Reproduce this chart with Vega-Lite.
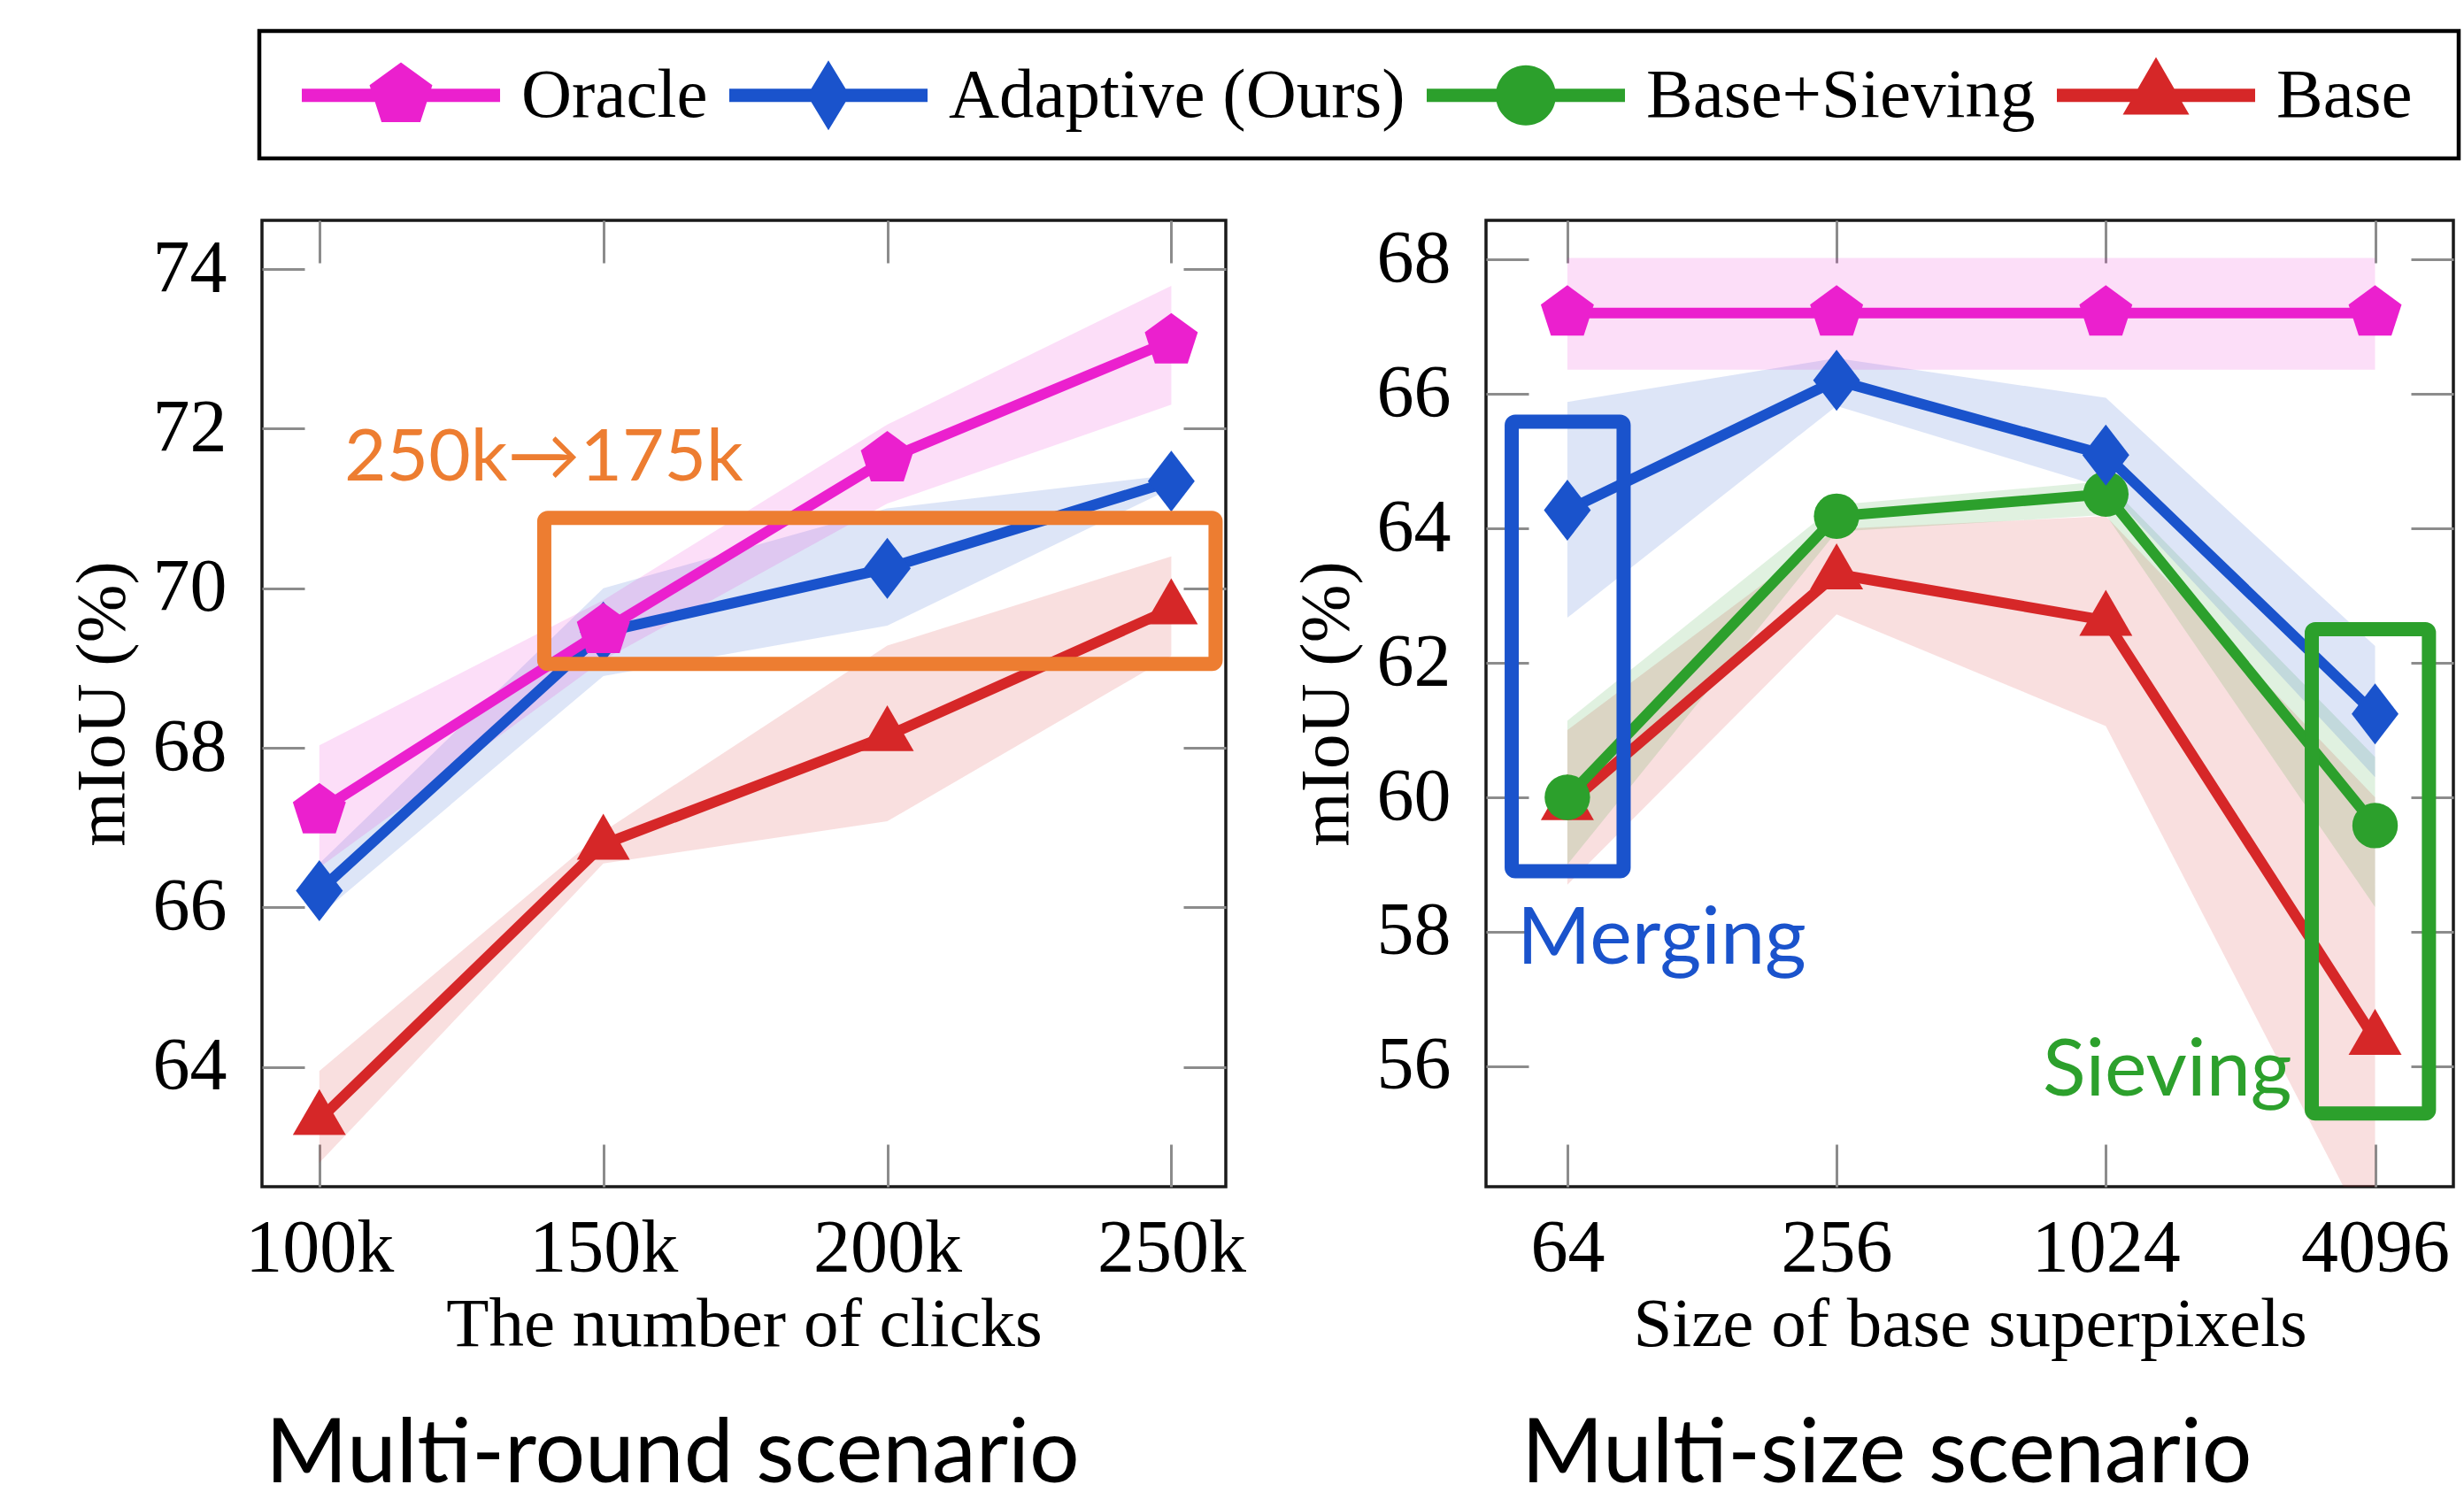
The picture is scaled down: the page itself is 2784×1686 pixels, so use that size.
{
  "$schema": "https://vega.github.io/schema/vega-lite/v6.json",
  "background": "white",
  "padding": {"left": 74, "top": 32, "right": 5, "bottom": 5},
  "config": {
    "view": {"stroke": "#1a1a1a", "strokeWidth": 3.5},
    "axis": {"grid": false, "domain": false, "tickColor": "#8c8c8c", "tickWidth": 3, "tickSize": -48, "labelFont": "Liberation Serif", "labelFontSize": 84, "labelColor": "black", "titleFont": "Liberation Serif", "titleFontSize": 79, "titleFontWeight": "normal", "titleColor": "black"},
    "legend": {"labelFont": "Liberation Serif", "labelFontSize": 79, "labelColor": "black", "labelLimit": 3000, "labelOffset": 165, "symbolSize": 6889, "symbolStrokeWidth": 0, "symbolOpacity": 1, "columnPadding": 24, "padding": 31, "strokeColor": "black", "strokeWidth": 4.5, "fillColor": "white", "titleFont": "Liberation Serif", "titleFontSize": 40, "titlePadding": 17}
  },
  "datasets": {
    "clicks": [
      {"series": "Base", "x": 100, "v": 63.34, "lo": 62.8, "hi": 63.95},
      {"series": "Base", "x": 150, "v": 66.79, "lo": 66.55, "hi": 66.95},
      {"series": "Base", "x": 200, "v": 68.15, "lo": 67.08, "hi": 69.28},
      {"series": "Base", "x": 250, "v": 69.74, "lo": 69.15, "hi": 70.4},
      {"series": "Adaptive (Ours)", "x": 100, "v": 66.21, "lo": 65.9, "hi": 66.55},
      {"series": "Adaptive (Ours)", "x": 150, "v": 69.45, "lo": 68.9, "hi": 70.0},
      {"series": "Adaptive (Ours)", "x": 200, "v": 70.25, "lo": 69.53, "hi": 71.0},
      {"series": "Adaptive (Ours)", "x": 250, "v": 71.34, "lo": 71.25, "hi": 71.42},
      {"series": "Oracle", "x": 100, "v": 67.21, "lo": 66.5, "hi": 68.03},
      {"series": "Oracle", "x": 150, "v": 69.47, "lo": 69.1, "hi": 69.85},
      {"series": "Oracle", "x": 200, "v": 71.62, "lo": 71.06, "hi": 72.05},
      {"series": "Oracle", "x": 250, "v": 73.1, "lo": 72.3, "hi": 73.79}
    ],
    "size": [
      {"series": "Base", "x": 64, "v": 59.89, "lo": 58.7, "hi": 61.0},
      {"series": "Base", "x": 256, "v": 63.32, "lo": 62.72, "hi": 63.99},
      {"series": "Base", "x": 1024, "v": 62.63, "lo": 61.06, "hi": 64.18},
      {"series": "Base", "x": 4096, "v": 56.4, "lo": 53.3, "hi": 60.0},
      {"series": "Base+Sieving", "x": 64, "v": 60.0, "lo": 59.0, "hi": 61.14},
      {"series": "Base+Sieving", "x": 256, "v": 64.18, "lo": 63.95, "hi": 64.35},
      {"series": "Base+Sieving", "x": 1024, "v": 64.51, "lo": 64.2, "hi": 64.7},
      {"series": "Base+Sieving", "x": 4096, "v": 59.58, "lo": 58.37, "hi": 60.6},
      {"series": "Adaptive (Ours)", "x": 64, "v": 64.27, "lo": 62.67, "hi": 65.88},
      {"series": "Adaptive (Ours)", "x": 256, "v": 66.2, "lo": 65.82, "hi": 66.53},
      {"series": "Adaptive (Ours)", "x": 1024, "v": 65.09, "lo": 64.6, "hi": 65.94},
      {"series": "Adaptive (Ours)", "x": 4096, "v": 61.24, "lo": 60.3, "hi": 62.25},
      {"series": "Oracle", "x": 64, "v": 67.2, "lo": 66.36, "hi": 68.02},
      {"series": "Oracle", "x": 256, "v": 67.2, "lo": 66.36, "hi": 68.02},
      {"series": "Oracle", "x": 1024, "v": 67.2, "lo": 66.36, "hi": 68.02},
      {"series": "Oracle", "x": 4096, "v": 67.2, "lo": 66.36, "hi": 68.02}
    ]
  },
  "spacing": 47,
  "resolve": {"scale": {"color": "shared", "fill": "shared", "shape": "shared", "x": "independent", "y": "independent"}},
  "hconcat": [
    {
      "width": 1089,
      "height": 1092,
      "title": {"text": "Multi-round scenario", "orient": "bottom", "anchor": "start", "frame": "group", "font": "Lato", "fontSize": 100, "fontWeight": "normal", "color": "black", "offset": 60, "dx": 4},
      "data": {"name": "clicks"},
      "resolve": {"axis": {"x": "independent", "y": "independent"}},
      "layer": [
        {
          "mark": {"type": "area", "fillOpacity": 0.15, "clip": true},
          "encoding": {
            "x": {"field": "x", "type": "quantitative", "scale": {"domain": [89.9, 259.6], "nice": false, "zero": false}, "axis": {"orient": "bottom", "values": [100, 150, 200, 250], "labelExpr": "datum.value + 'k'", "labelPadding": 77, "title": "The number of clicks", "titlePadding": 5}},
            "y": {"field": "lo", "type": "quantitative", "stack": null, "scale": {"domain": [62.5, 74.61], "nice": false, "zero": false}, "axis": {"orient": "left", "values": [64, 66, 68, 70, 72, 74], "labelPadding": 88, "title": "mIoU (%)", "titlePadding": 16}},
            "y2": {"field": "hi"},
            "color": {"field": "series", "type": "nominal", "legend": null, "scale": {"domain": ["Base", "Base+Sieving", "Adaptive (Ours)", "Oracle"], "range": ["#D62728", "#2CA02C", "#1A53CC", "#EB20CE"]}}
          }
        },
        {
          "transform": [{"filter": "datum.series === 'Base'"}],
          "mark": {"type": "line", "strokeWidth": 12, "point": {"filled": true, "shape": "M0,-1L0.866,0.5L-0.866,0.5Z", "size": 4789, "opacity": 1, "strokeWidth": 0}},
          "encoding": {
            "x": {"field": "x", "type": "quantitative", "axis": {"orient": "top", "values": [100, 150, 200, 250], "labels": false, "title": null}},
            "y": {"field": "v", "type": "quantitative", "axis": {"orient": "right", "values": [64, 66, 68, 70, 72, 74], "labels": false, "title": null}},
            "color": {"field": "series", "type": "nominal", "legend": null}
          }
        },
        {
          "transform": [{"filter": "datum.series === 'Adaptive (Ours)'"}],
          "mark": {"type": "line", "strokeWidth": 12, "point": {"filled": true, "shape": "M0,-1L0.768,0L0,1L-0.768,0Z", "size": 4761, "opacity": 1, "strokeWidth": 0}},
          "encoding": {
            "x": {"field": "x", "type": "quantitative", "axis": null},
            "y": {"field": "v", "type": "quantitative", "axis": null},
            "color": {"field": "series", "type": "nominal", "legend": null}
          }
        },
        {
          "transform": [{"filter": "datum.series === 'Oracle'"}],
          "mark": {"type": "line", "strokeWidth": 12, "point": {"filled": true, "shape": "M0,-1L0.951,-0.309L0.588,0.809L-0.588,0.809L-0.951,-0.309Z", "size": 3969, "opacity": 1, "strokeWidth": 0}},
          "encoding": {
            "x": {"field": "x", "type": "quantitative", "axis": null},
            "y": {"field": "v", "type": "quantitative", "axis": null},
            "color": {"field": "series", "type": "nominal", "legend": null}
          }
        },
        {
          "data": {"values": [{"x": 139.6, "x2": 257.8, "y": 70.88, "y2": 69.05}]},
          "mark": {"type": "rect", "filled": false, "color": "#ED7D31", "strokeWidth": 16, "cornerRadius": 4},
          "encoding": {
            "x": {"field": "x", "type": "quantitative", "axis": null},
            "x2": {"field": "x2"},
            "y": {"field": "y", "type": "quantitative", "axis": null},
            "y2": {"field": "y2"}
          }
        },
        {
          "data": {"values": [{"x": 104.4, "y": 71.35, "label": "250k→175k"}]},
          "mark": {"type": "text", "align": "left", "baseline": "alphabetic", "font": "Lato", "fontSize": 82, "color": "#ED7D31"},
          "encoding": {
            "x": {"field": "x", "type": "quantitative", "axis": null},
            "y": {"field": "y", "type": "quantitative", "axis": null},
            "text": {"field": "label"}
          }
        },
        {
          "transform": [{"filter": "datum.v < 0"}],
          "mark": {"type": "point", "filled": true, "opacity": 1, "strokeWidth": 0},
          "encoding": {
            "x": {"field": "x", "type": "quantitative", "axis": null},
            "y": {"field": "v", "type": "quantitative", "axis": null},
            "fill": {"field": "series", "type": "nominal", "scale": {"domain": ["Oracle", "Adaptive (Ours)", "Base+Sieving", "Base"], "range": ["#EB20CE", "#1A53CC", "#2CA02C", "#D62728"]}, "legend": {"title": " ", "titleOrient": "left", "orient": "none", "legendX": -3, "legendY": -214, "direction": "horizontal", "columns": 4}},
            "shape": {"field": "series", "type": "nominal", "scale": {"domain": ["Oracle", "Adaptive (Ours)", "Base+Sieving", "Base"], "range": ["M-1,-0.181L4.398,-0.181L4.398,0.181L-1,0.181ZM1.699,-0.899L2.554,-0.278L2.227,0.727L1.171,0.727L0.844,-0.278Z", "M-1,-0.181L4.398,-0.181L4.398,0.181L-1,0.181ZM1.699,-0.952L2.277,0L1.699,0.952L1.121,0Z", "M-1,-0.181L4.398,-0.181L4.398,0.181L-1,0.181ZM2.518,0A0.819,0.819,0,1,1,0.88,0A0.819,0.819,0,1,1,2.518,0Z", "M-1,-0.181L4.398,-0.181L4.398,0.181L-1,0.181ZM1.699,-1.043L2.603,0.523L0.795,0.523ZM9.19,0L9.19,0Z"]}, "legend": {"title": " ", "titleOrient": "left", "orient": "none", "legendX": -3, "legendY": -214, "direction": "horizontal", "columns": 4}}
          }
        }
      ]
    },
    {
      "width": 1093,
      "height": 1092,
      "title": {"text": "Multi-size scenario", "orient": "bottom", "anchor": "start", "frame": "group", "font": "Lato", "fontSize": 100, "fontWeight": "normal", "color": "black", "offset": 60, "dx": 40},
      "data": {"name": "size"},
      "resolve": {"axis": {"x": "independent", "y": "independent"}},
      "layer": [
        {
          "mark": {"type": "area", "fillOpacity": 0.15, "clip": true},
          "encoding": {
            "x": {"field": "x", "type": "quantitative", "scale": {"type": "log", "base": 2, "domain": [42.1, 6130], "nice": false}, "axis": {"orient": "bottom", "values": [64, 256, 1024, 4096], "format": "d", "labelPadding": 77, "title": "Size of base superpixels", "titlePadding": 5}},
            "y": {"field": "lo", "type": "quantitative", "stack": null, "scale": {"domain": [54.21, 68.58], "nice": false, "zero": false}, "axis": {"orient": "left", "values": [56, 58, 60, 62, 64, 66, 68], "labelPadding": 88, "title": "mIoU (%)", "titlePadding": 16}},
            "y2": {"field": "hi"},
            "color": {"field": "series", "type": "nominal", "legend": null}
          }
        },
        {
          "transform": [{"filter": "datum.series === 'Base'"}],
          "mark": {"type": "line", "strokeWidth": 12, "point": {"filled": true, "shape": "M0,-1L0.866,0.5L-0.866,0.5Z", "size": 4789, "opacity": 1, "strokeWidth": 0}},
          "encoding": {
            "x": {"field": "x", "type": "quantitative", "axis": {"orient": "top", "values": [64, 256, 1024, 4096], "labels": false, "title": null}},
            "y": {"field": "v", "type": "quantitative", "axis": {"orient": "right", "values": [56, 58, 60, 62, 64, 66, 68], "labels": false, "title": null}},
            "color": {"field": "series", "type": "nominal", "legend": null}
          }
        },
        {
          "transform": [{"filter": "datum.series === 'Base+Sieving'"}],
          "mark": {"type": "line", "strokeWidth": 12, "point": {"filled": true, "shape": "circle", "size": 2642, "opacity": 1, "strokeWidth": 0}},
          "encoding": {
            "x": {"field": "x", "type": "quantitative", "axis": null},
            "y": {"field": "v", "type": "quantitative", "axis": null},
            "color": {"field": "series", "type": "nominal", "legend": null}
          }
        },
        {
          "transform": [{"filter": "datum.series === 'Adaptive (Ours)'"}],
          "mark": {"type": "line", "strokeWidth": 12, "point": {"filled": true, "shape": "M0,-1L0.768,0L0,1L-0.768,0Z", "size": 4761, "opacity": 1, "strokeWidth": 0}},
          "encoding": {
            "x": {"field": "x", "type": "quantitative", "axis": null},
            "y": {"field": "v", "type": "quantitative", "axis": null},
            "color": {"field": "series", "type": "nominal", "legend": null}
          }
        },
        {
          "transform": [{"filter": "datum.series === 'Oracle'"}],
          "mark": {"type": "line", "strokeWidth": 12, "point": {"filled": true, "shape": "M0,-1L0.951,-0.309L0.588,0.809L-0.588,0.809L-0.951,-0.309Z", "size": 3969, "opacity": 1, "strokeWidth": 0}},
          "encoding": {
            "x": {"field": "x", "type": "quantitative", "axis": null},
            "y": {"field": "v", "type": "quantitative", "axis": null},
            "color": {"field": "series", "type": "nominal", "legend": null}
          }
        },
        {
          "data": {"values": [{"x": 48.06, "x2": 85.5, "y": 65.585, "y2": 58.9}]},
          "mark": {"type": "rect", "filled": false, "color": "#1A53CC", "strokeWidth": 16, "cornerRadius": 4},
          "encoding": {
            "x": {"field": "x", "type": "quantitative", "axis": null},
            "x2": {"field": "x2"},
            "y": {"field": "y", "type": "quantitative", "axis": null},
            "y2": {"field": "y2"}
          }
        },
        {
          "data": {"values": [{"x": 2957, "x2": 5405, "y": 62.5, "y2": 55.3}]},
          "mark": {"type": "rect", "filled": false, "color": "#2CA02C", "strokeWidth": 16, "cornerRadius": 4},
          "encoding": {
            "x": {"field": "x", "type": "quantitative", "axis": null},
            "x2": {"field": "x2"},
            "y": {"field": "y", "type": "quantitative", "axis": null},
            "y2": {"field": "y2"}
          }
        },
        {
          "data": {"values": [{"x": 49.4, "y": 57.53, "label": "Merging"}]},
          "mark": {"type": "text", "align": "left", "baseline": "alphabetic", "font": "Lato", "fontSize": 90, "color": "#1A53CC"},
          "encoding": {
            "x": {"field": "x", "type": "quantitative", "axis": null},
            "y": {"field": "y", "type": "quantitative", "axis": null},
            "text": {"field": "label"}
          }
        },
        {
          "data": {"values": [{"x": 740, "y": 55.57, "label": "Sieving"}]},
          "mark": {"type": "text", "align": "left", "baseline": "alphabetic", "font": "Lato", "fontSize": 90, "color": "#2CA02C"},
          "encoding": {
            "x": {"field": "x", "type": "quantitative", "axis": null},
            "y": {"field": "y", "type": "quantitative", "axis": null},
            "text": {"field": "label"}
          }
        }
      ]
    }
  ]
}
